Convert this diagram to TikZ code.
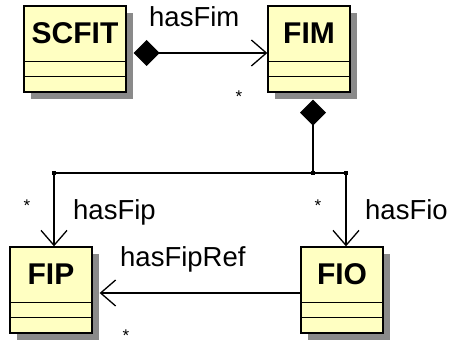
\documentclass[tikz,border=0pt]{standalone}
\usepackage{fontspec}
\setmainfont{Liberation Sans}
\usetikzlibrary{arrows.meta,shadows}
\definecolor{classfill}{RGB}{255,255,194}
\definecolor{shadowgray}{RGB}{138,138,138}
\begin{document}
\begin{tikzpicture}[x=1pt,y=-1pt,
  classbox/.style={rectangle, draw=black, line width=1.3pt, fill=classfill,
    inner sep=0pt, minimum height=86pt,
    drop shadow={shadow xshift=7pt, shadow yshift=-7pt, fill=shadowgray, opacity=1}},
  classname/.style={inner sep=0pt, font=\bfseries\fontsize{30}{30}\selectfont},
  compartment/.style={line width=1.3pt},
  assoc/.style={line width=1.3pt},
  composite/.tip={Diamond[length=26pt,width=26pt]},
  navigable/.tip={Straight Barb[length=15pt,width=26pt]},
  rolename/.style={inner sep=0pt, anchor=base west, font=\fontsize{27.5}{27.5}\selectfont},
  mult/.style={inner sep=0pt, anchor=base, font=\fontsize{17}{17}\selectfont},
  junction/.style={rectangle, fill=black, inner sep=0pt, minimum size=4.5pt}]
\useasboundingbox (0,0) rectangle (453,342);

% class boxes
\node[classbox, minimum width=102pt] (scfit) at (75,49) {};
\node[classbox, minimum width=82pt]  (fim)   at (309,49) {};
\node[classbox, minimum width=82pt]  (fip)   at (51,290) {};
\node[classbox, minimum width=82pt]  (fio)   at (342,290) {};

% names and empty compartments
\foreach \c/\t in {scfit/SCFIT, fim/FIM, fip/FIP, fio/FIO}{
  \node[classname] at ([yshift=-28pt]\c.north) {\t};
  \draw[compartment] ([yshift=-56pt]\c.north west) -- ([yshift=-56pt]\c.north east);
  \draw[compartment] ([yshift=-71pt]\c.north west) -- ([yshift=-71pt]\c.north east);
}

% SCFIT owns FIM
\draw[assoc, composite-navigable] ([xshift=7pt,yshift=-4pt]scfit.east) -- ([yshift=-4pt]fim.west);
\node[rolename] (lfim) at (149,27) {hasFim};
\node[mult] (mfim) at (239,103) {*};

% FIM owns FIP and FIO through a shared branch
\node[junction] (jm) at (313,173) {};
\node[junction] (jl) at (54,173) {};
\node[junction] (jr) at (346,173) {};
\draw[assoc, composite-] ([xshift=4pt,yshift=-7pt]fim.south) -- (jm.center);
\draw[assoc] (jl.center) -- (jr.center);
\draw[assoc, -navigable] (jl.center) -- (jl.center |- fip.north);
\draw[assoc, -navigable] (jr.center) -- (jr.center |- fio.north);
\node[rolename] (lfip) at (73,219) {hasFip};
\node[rolename] (lfio) at (365,220) {hasFio};
\node[mult] (mfip) at (27,212) {*};
\node[mult] (mfio) at (318,212) {*};

% FIO refers to FIP
\draw[assoc, -navigable] ([yshift=-3pt]fio.west) -- ([xshift=7pt,yshift=-3pt]fip.east);
\node[rolename] (lref) at (120,266) {hasFipRef};
\node[mult] (mref) at (126,341.5) {*};
\end{tikzpicture}
\end{document}
